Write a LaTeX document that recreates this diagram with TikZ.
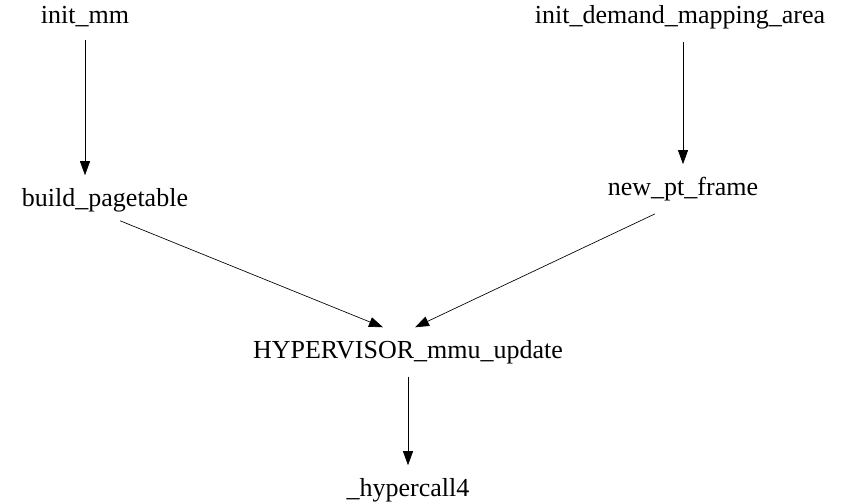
\documentclass[tikz,border=0pt]{standalone}
\usepackage{fontspec}
\setmainfont{Liberation Serif}
\usetikzlibrary{arrows.meta,calc}
\tikzset{
	fn/.style={inner xsep=2pt, inner ysep=9.5pt, font=\fontsize{19.5pt}{21pt}\selectfont},
	call/.style={-{Triangle[length=10.5pt, width=7.5pt]}, line width=0.5pt}
}

\begin{document}
\begin{tikzpicture}[x=0.75pt, y=-0.75pt]
			%%%%% START %%%%%
			\useasboundingbox (0, 0) rectangle (866, 503);
			
			\node[fn] (initmm) at (85, 17) {init\_mm};
			\node[fn] (initdemand) at (680, 17) {init\_demand\_mapping\_area};
			
			\node[fn] (buildpt) at (105, 200) {build\_pagetable};
			\node[fn] (newpt) at (683, 189) {new\_pt\_frame};
			
			\node[fn] (mmuupdate) at (408, 352) {HYPERVISOR\_mmu\_update};
			\node[fn] (hypercall) at (408, 490) {\_hypercall4};
			
			\draw[call] (initmm.south -| 85, 0) -- (buildpt.north -| 85, 0);
			\draw[call] (initdemand.south -| 683, 0) -- (newpt.north -| 683, 0);
			\draw[call] ($(buildpt.south)+(15, -4)$) -- ($(mmuupdate.north)+(-25, 0)$);
			\draw[call] ($(newpt.south)+(-28, 0)$) -- ($(mmuupdate.north)+(7, 0)$);
			\draw[call] (mmuupdate) -- (hypercall);
			
			%%%%% END %%%%%
\end{tikzpicture}
\end{document}
